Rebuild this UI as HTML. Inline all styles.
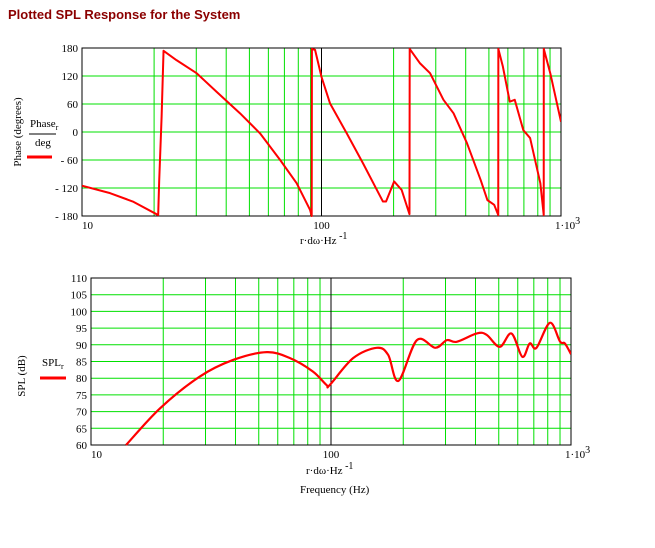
<!DOCTYPE html>
<html><head><meta charset="utf-8"><style>
body{margin:0;background:#fff;}
svg text{font-family:"Liberation Serif",serif;fill:#000;}
</style></head><body>
<svg id="c" width="655" height="543" xmlns="http://www.w3.org/2000/svg">
<text x="8" y="19" style="font-family:'Liberation Sans',sans-serif;font-weight:bold;font-size:13px;fill:#8b0000">Plotted SPL Response for the System</text>
<g id="top"></g>
<g id="bot"></g>
<text transform="translate(21,132) rotate(-90)" text-anchor="middle" font-size="11">Phase (degrees)</text>
<text x="30" y="127" font-size="11">Phase<tspan font-size="8" dy="3">r</tspan></text>
<line x1="29" y1="134" x2="56" y2="134" stroke="#000" stroke-width="1"/>
<text x="35" y="146" font-size="11">deg</text>
<line x1="27" y1="157" x2="52" y2="157" stroke="#f00" stroke-width="3"/>
<text transform="translate(25,376) rotate(-90)" text-anchor="middle" font-size="11">SPL (dB)</text>
<text x="42" y="366" font-size="11">SPL<tspan font-size="8" dy="3">r</tspan></text>
<line x1="40" y1="378" x2="66" y2="378" stroke="#f00" stroke-width="3"/>
<text x="300" y="244" font-size="11">r·dω·Hz<tspan dy="-5" font-size="10"> -1</tspan></text>
<text x="306" y="474" font-size="11">r·dω·Hz<tspan dy="-5" font-size="10"> -1</tspan></text>
<text x="300" y="493" font-size="11">Frequency (Hz)</text>
</svg>
<script>
const phaseFreq=[10,13.1,16.3,20.8,21.0,21.5,21.9,24.8,30.1,36.5,45.7,55.4,67.2,78.8,89.6,91,91.2,94,100,108.6,127.5,149,180.5,186,201,216,233,233.5,258,284,323,356,405,462,493,526,547,547.5,572,611,641,696,743,820,847,847.5,902,1000];
const phaseVals=[-115,-131,-149,-178,-106,33,174,154,126,86,40,-3,-60,-110,-167,-180,178,176,118,61,-3,-67,-149,-149,-106,-124,-176,178,147,126,69,40,-24,-103,-146,-156,-178,178,140,65,69,4,-13,-110,-178,178,126,22];
const splFreq=[14.0,19.4,28.4,39.2,54,67.5,84,95.7,98.9,123.6,155,173,191,228,272,304,334,405,445,505,565,627,673,718,817,900,943,1000];
const splVals=[60,71,80.5,85.5,87.8,86,82,78,78,86,89.1,87,79.2,91.4,89.1,91.4,90.9,93.4,93,89.4,93.4,86.4,90.4,89.1,96.6,91,90.4,87.2];
const phaseTicks=[-180,-120,-60,0,60,120,180];
const splTicks=[60,65,70,75,80,85,90,95,100,105,110];
const NS="http://www.w3.org/2000/svg";
function mk(p,t,a){const e=document.createElementNS(NS,t);for(const k in a)e.setAttribute(k,a[k]);p.appendChild(e);return e;}
function smoothPath(pts){
 let d='M'+pts[0][0]+','+pts[0][1];
 for(let i=0;i<pts.length-1;i++){
  const p0=pts[Math.max(0,i-1)],p1=pts[i],p2=pts[i+1],p3=pts[Math.min(pts.length-1,i+2)];
  const c1=[p1[0]+(p2[0]-p0[0])/6,p1[1]+(p2[1]-p0[1])/6];
  const c2=[p2[0]-(p3[0]-p1[0])/6,p2[1]-(p3[1]-p1[1])/6];
  d+=' C'+c1+' '+c2+' '+p2;
 }
 return d;
}
function plot(g,x0,x1,y0,y1,ymin,ymax,ticks,fr,vals,lw,smooth){
 const X=f=>x0+(Math.log10(f)-1)/2*(x1-x0);
 const Y=v=>y1-(v-ymin)/(ymax-ymin)*(y1-y0);
 for(let d=10;d<=100;d*=10)for(let m=2;m<=9;m++){const l=mk(g,'line',{x1:X(d*m),x2:X(d*m),y1:y0,y2:y1,stroke:'#00e000','stroke-width':1});
 }
 ticks.forEach(t=>{const l=mk(g,'line',{x1:x0,x2:x1,y1:Y(t),y2:Y(t),stroke:'#00e000','stroke-width':1});
 
 const tx=mk(g,'text',{x:x0-4,y:Y(t)+4,'text-anchor':'end','font-size':11});tx.textContent=t<0?'- '+(-t):t;
 });
 mk(g,'line',{x1:X(100),x2:X(100),y1:y0,y2:y1,stroke:'#000','stroke-width':1});
 mk(g,'rect',{x:x0,y:y0,width:x1-x0,height:y1-y0,fill:'none',stroke:'#000','stroke-width':1});
 const labs=[[10,'10'],[100,'100']];
 labs.forEach(([f,s])=>{const t=mk(g,'text',{x:X(f),y:y1+13,'font-size':11,'text-anchor':f==10?'start':'middle'});t.textContent=s;
 });
 const t=mk(g,'text',{x:x1-6,y:y1+13,'font-size':11});t.innerHTML='1·10<tspan dy="-5" font-size="10">3</tspan>';
 
 const cp='cp'+x0;const c=mk(g,'clipPath',{id:cp});mk(c,'rect',{x:x0,y:y0-2,width:x1-x0,height:y1-y0+4});
 const pts=fr.map((f,i)=>[X(f),Y(vals[i])]);
 let p;
 if(smooth) p=mk(g,'path',{d:smoothPath(pts),fill:'none',stroke:'#f00','stroke-width':lw,'stroke-linejoin':'round','clip-path':'url(#'+cp+')'});
 else p=mk(g,'polyline',{points:pts.map(q=>q.join(',')).join(' '),fill:'none',stroke:'#f00','stroke-width':lw,'stroke-linejoin':'round','clip-path':'url(#'+cp+')'});
 
}
plot(document.getElementById('top'),82,561,48,216,-180,180,phaseTicks,phaseFreq,phaseVals,2,false);
plot(document.getElementById('bot'),91,571,278,445,60,110,splTicks,splFreq,splVals,2.2,true);
</script>
</body></html>
